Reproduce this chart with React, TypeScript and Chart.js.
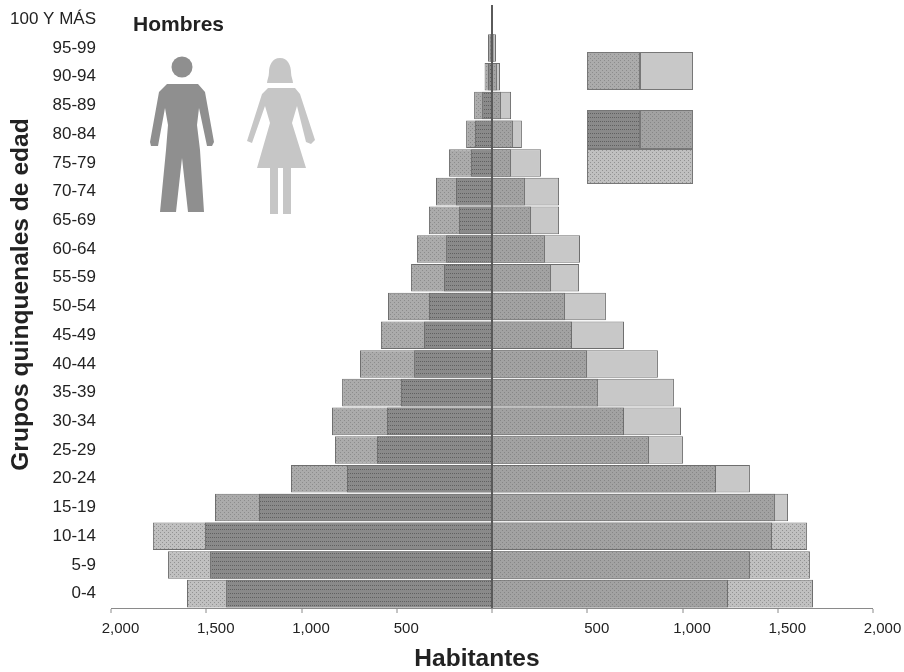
import React, { useEffect, useRef } from "react";
import { Chart, registerables } from "chart.js";

Chart.register(...registerables);

const ageGroups = ["100 Y MÁS","95-99","90-94","85-89","80-84","75-79","70-74","65-69","60-64","55-59","50-54","45-49","40-44","35-39","30-34","25-29","20-24","15-19","10-14","5-9","0-4"];
const menTotal = [5,21,39,94,136,226,294,331,394,425,546,583,693,787,840,824,1055,1454,1780,1701,1601];
const menCore = [5,10,21,52,89,110,189,173,241,252,331,357,409,478,551,604,761,1223,1507,1480,1396];
const womenCore = [5,10,26,47,110,100,173,205,278,310,383,420,499,556,693,824,1176,1486,1470,1354,1239];
const womenTotal = [5,21,42,100,157,257,352,352,462,457,598,693,871,955,992,1003,1354,1554,1654,1669,1685];
const xTicks = [-2000,-1500,-1000,-500,0,500,1000,1500,2000];
const xTitle = "Habitantes";
const yTitle = "Grupos quinquenales de edad";
const figureTitle = "Hombres";

const FONT = '"Liberation Sans", Arial, sans-serif';

function texture(base: string, dot: string, sx: number, sy: number): CanvasPattern {
  const c = document.createElement("canvas");
  c.width = sx * 2;
  c.height = sy * 2;
  const g = c.getContext("2d")!;
  g.fillStyle = base;
  g.fillRect(0, 0, c.width, c.height);
  g.fillStyle = dot;
  g.fillRect(0, 0, 1, 1);
  g.fillRect(sx, sy, 1, 1);
  return g.createPattern(c, "repeat")!;
}

function rows(base: string, dot: string): CanvasPattern {
  const c = document.createElement("canvas");
  c.width = 2;
  c.height = 4;
  const g = c.getContext("2d")!;
  g.fillStyle = base;
  g.fillRect(0, 0, 2, 4);
  g.fillStyle = dot;
  g.fillRect(0, 1, 1, 1);
  return g.createPattern(c, "repeat")!;
}

const decorations = (t: Record<string, any>) => ({
  id: "decorations",
  afterDraw(chart: any) {
    const g: CanvasRenderingContext2D = chart.ctx;
    g.save();
    g.fillStyle = "#222";
    g.textBaseline = "middle";
    g.textAlign = "center";
    g.font = `bold 24.5px ${FONT}`;
    g.fillText(xTitle, 477, 659);
    g.font = `bold 21px ${FONT}`;
    g.textAlign = "left";
    g.fillText(figureTitle, 133, 25);
    g.save();
    g.translate(21, 294.5);
    g.rotate(-Math.PI / 2);
    g.textAlign = "center";
    g.font = `bold 24.6px ${FONT}`;
    g.fillText(yTitle, 0, 0);
    g.restore();

    // man pictogram
    g.fillStyle = "#8f8f8f";
    g.beginPath();
    g.arc(182, 67, 10.5, 0, Math.PI * 2);
    g.fill();
    g.beginPath();
    const man = [[167,84],[198,84],[205,92],[214,142],[212,146],[207,146],[199,108],[197,125],[200,150],[204,212],[188,212],[182,158],[176,212],[160,212],[166,150],[168,125],[165,108],[158,146],[151,146],[150,142],[159,92]];
    man.forEach(([x, y], i) => (i ? g.lineTo(x, y) : g.moveTo(x, y)));
    g.closePath();
    g.fill();

    // woman pictogram
    g.fillStyle = "#c6c6c6";
    g.beginPath();
    g.moveTo(280, 58);
    g.bezierCurveTo(288, 58, 291, 66, 291, 72);
    g.bezierCurveTo(291, 77, 293, 80, 293, 83);
    g.lineTo(267, 83);
    g.bezierCurveTo(267, 80, 269, 77, 269, 72);
    g.bezierCurveTo(269, 66, 272, 58, 280, 58);
    g.fill();
    g.beginPath();
    const woman = [[268,88],[295,88],[300,94],[315,140],[311,144],[306,142],[297,106],[292,123],[306,168],[291,168],[291,214],[283,214],[283,168],[278,168],[278,214],[270,214],[270,168],[257,168],[270,123],[265,106],[252,143],[247,141],[262,94]];
    woman.forEach(([x, y], i) => (i ? g.lineTo(x, y) : g.moveTo(x, y)));
    g.closePath();
    g.fill();

    // key panels
    const box = (x: number, y: number, w: number, h: number, fill: any) => {
      g.fillStyle = fill;
      g.fillRect(x, y, w, h);
      g.strokeStyle = "#777";
      g.lineWidth = 1;
      g.strokeRect(x + 0.5, y + 0.5, w - 1, h - 1);
    };
    box(587, 52, 53, 38, t.menOuter);
    box(640, 52, 53, 38, t.womenOuter);
    box(587, 110, 53, 39, t.menInner);
    box(640, 110, 53, 39, t.womenInner);
    box(587, 149, 106, 35, t.young);
    g.restore();
  },
});

export default function App() {
  const ref = useRef<HTMLCanvasElement | null>(null);

  useEffect(() => {
    const t = {
      menOuter: texture("#ababab", "#8c8c8c", 2, 2),
      menInner: rows("#8a8a8a", "#606060"),
      womenInner: texture("#a2a2a2", "#868686", 2, 2),
      womenOuter: "#c8c8c8",
      young: texture("#c0c0c0", "#929292", 2, 2),
    };
    const isYoung = (i: number) => i >= ageGroups.length - 3;
    const neg = (a: number[]) => a.map((v) => -v);
    const base = { categoryPercentage: 1, barPercentage: 0.96, borderWidth: 1, borderColor: "#6e6e6e" };
    const chart = new Chart(ref.current!, {
      type: "bar",
      data: {
        labels: ageGroups,
        datasets: [
          { ...base, label: "Hombres núcleo", data: neg(menCore), backgroundColor: t.menInner },
          { ...base, label: "Mujeres núcleo", data: womenCore, backgroundColor: t.womenInner },
          { ...base, label: "Hombres total", data: neg(menTotal), backgroundColor: ageGroups.map((_, i) => (isYoung(i) ? t.young : t.menOuter)) },
          { ...base, label: "Mujeres total", data: womenTotal, backgroundColor: ageGroups.map((_, i) => (isYoung(i) ? t.young : t.womenOuter)) },
        ],
      },
      options: {
        indexAxis: "y",
        animation: false,
        responsive: false,
        layout: { padding: { left: 0, right: 31, top: 5, bottom: 0 } },
        plugins: { legend: { display: false }, title: { display: false }, tooltip: { enabled: false } },
        datasets: { bar: { grouped: false } },
        scales: {
          x: {
            type: "linear",
            min: -2000,
            max: 2000,
            afterFit: (s: any) => { s.height = 64; },
            afterBuildTicks: (s: any) => { s.ticks = xTicks.map((value) => ({ value })); },
            border: { display: true, color: "#8a8a8a", width: 1, z: 2 },
            grid: {
              z: 1,
              drawTicks: true,
              tickLength: 5,
              tickColor: "#8a8a8a",
              tickWidth: 1,
              lineWidth: (c: any) => (c.tick && c.tick.value === 0 ? 2 : 0),
              color: (c: any) => (c.tick && c.tick.value === 0 ? "#5a5a5a" : "rgba(0,0,0,0)"),
            },
            ticks: {
              autoSkip: false,
              maxRotation: 0,
              padding: 7,
              labelOffset: 9.5,
              color: "#222",
              font: { family: FONT, size: 15 },
              callback: (v: any) => (v === 0 ? "" : Math.abs(v).toLocaleString("en-US")),
            },
          },
          y: {
            type: "category",
            afterFit: (s: any) => { s.width = 111; s.paddingTop = 0; s.paddingBottom = 0; },
            border: { display: false },
            grid: { display: false, drawTicks: false },
            ticks: {
              autoSkip: false,
              padding: 15,
              color: "#222",
              font: { family: FONT, size: 17 },
            },
          },
        },
      },
      plugins: [decorations(t)],
    } as any);
    return () => chart.destroy();
  }, []);

  return (
    <div style={{ position: "absolute", left: 0, top: 0, width: 904, height: 672, background: "#fff" }}>
      <canvas ref={ref} width={904} height={672} style={{ display: "block" }} />
    </div>
  );
}
